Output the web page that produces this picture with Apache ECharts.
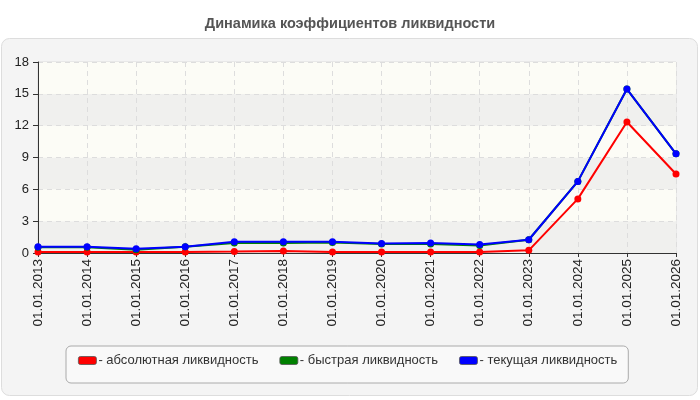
<!DOCTYPE html>
<html>
<head>
<meta charset="utf-8">
<script src="https://cdn.jsdelivr.net/npm/echarts@6/dist/echarts.min.js"></script>
<style>html,body{margin:0;padding:0;background:#fff;}#c{width:700px;height:400px;}</style>
</head>
<body>
<div id="c"></div>
<script>
const categories = ['01.01.2013','01.01.2014','01.01.2015','01.01.2016','01.01.2017','01.01.2018','01.01.2019','01.01.2020','01.01.2021','01.01.2022','01.01.2023','01.01.2024','01.01.2025','01.01.2026'];
const absoluteLiquidity = [0.1, 0.1, 0.1, 0.1, 0.13, 0.2, 0.1, 0.1, 0.1, 0.1, 0.25, 5.1, 12.35, 7.45];
const quickLiquidity = [0.55, 0.55, 0.3, 0.6, 0.95, 0.95, 1.0, 0.85, 0.85, 0.7, 1.25, 6.75, 15.45, 9.35];
const currentLiquidity = [0.6, 0.6, 0.4, 0.6, 1.05, 1.05, 1.05, 0.9, 0.95, 0.8, 1.25, 6.75, 15.45, 9.35];
const yTicks = [0, 3, 6, 9, 12, 15, 18];
const seriesNames = ['- абсолютная ликвидность', '- быстрая ликвидность', '- текущая ликвидность'];
const seriesColors = ['#ff0000', '#008000', '#0000ff'];

const FONT = 'Liberation Sans, Arial, sans-serif';
const chart = echarts.init(document.getElementById('c'), null, {renderer: 'canvas'});
const seriesData = [absoluteLiquidity, quickLiquidity, currentLiquidity];
chart.setOption({
  backgroundColor: '#ffffff',
  animation: false,
  graphic: [{
    type: 'rect', z: -10, silent: true,
    shape: {x: 1.5, y: 38.5, width: 696, height: 357, r: 8},
    style: {fill: '#f4f4f4', stroke: '#dddddd', lineWidth: 1}
  }],
  title: {
    text: 'Динамика коэффициентов ликвидности',
    left: 'center', top: 11,
    textStyle: {fontFamily: FONT, fontSize: 14.5, fontWeight: 'bold', color: '#555555'}
  },
  legend: {
    left: 66, top: 346,
    padding: [8, 11, 16, 12],
    itemGap: 21,
    itemWidth: 18, itemHeight: 8,
    icon: 'roundRect',
    backgroundColor: '#f9f9f9',
    borderColor: '#aaaaaa', borderWidth: 1, borderRadius: 5,
    textStyle: {fontFamily: FONT, fontSize: 13, color: '#333333', padding: [0, 0, 0, -3]},
    itemStyle: {borderColor: '#555555', borderWidth: 0.8},
    data: seriesNames
  },
  grid: {
    left: 38, right: 24, top: 62, bottom: 147,
    show: true, borderColor: '#dddddd', borderWidth: 1, backgroundColor: '#fcfcf6'
  },
  xAxis: {
    type: 'category', data: categories, boundaryGap: false,
    axisLine: {lineStyle: {color: '#333333', width: 1}},
    axisTick: {show: true, length: 4, lineStyle: {color: '#333333'}},
    axisLabel: {rotate: 90, margin: 6, fontFamily: FONT, fontSize: 13.5, color: '#222222', interval: 0},
    splitLine: {show: true, lineStyle: {color: '#dddddd', type: [5, 4]}}
  },
  yAxis: {
    type: 'value', min: 0, max: 18, interval: 3,
    axisLine: {show: true, lineStyle: {color: '#333333', width: 1}},
    axisTick: {show: true, length: 5, lineStyle: {color: '#333333'}},
    axisLabel: {margin: 9, fontFamily: FONT, fontSize: 13, color: '#222222',
      formatter: v => yTicks.includes(v) ? String(v) : ''},
    splitLine: {show: true, lineStyle: {color: '#dddddd', type: [5, 4]}},
    splitArea: {show: true, areaStyle: {color: ['#f0f0ee', '#fcfcf6']}}
  },
  series: seriesData.map((d, i) => ({
    name: seriesNames[i],
    type: 'line',
    data: d,
    symbol: 'circle', symbolSize: 7,
    lineStyle: {color: seriesColors[i], width: 2},
    itemStyle: {color: seriesColors[i]},
    z: 2 + i
  }))
});
</script>
</body>
</html>
